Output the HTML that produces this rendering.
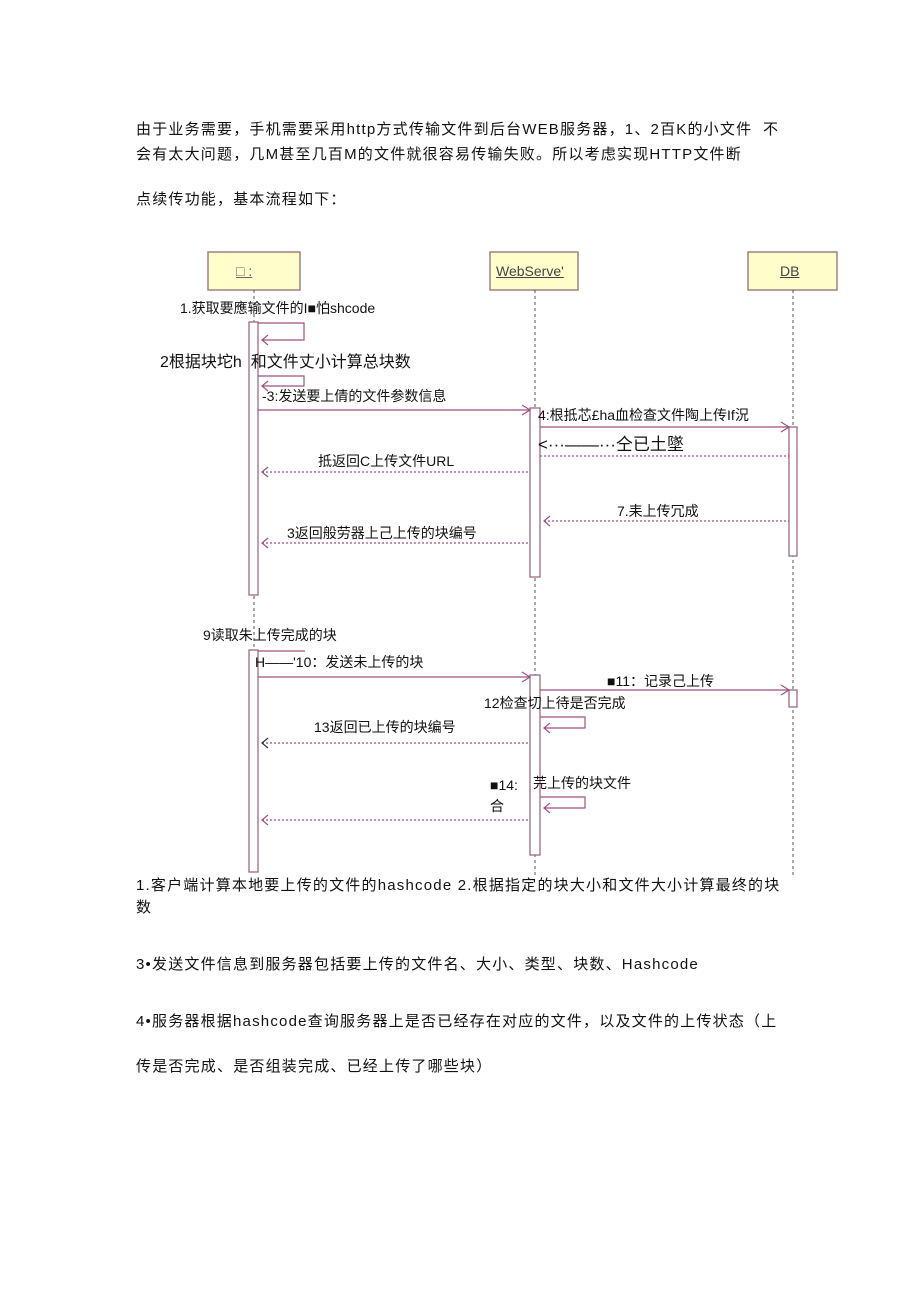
<!DOCTYPE html>
<html><head><meta charset="utf-8"><style>
body{margin:0;background:#fff;width:920px;height:1302px;position:relative;overflow:hidden;font-family:"Liberation Sans","Noto Sans CJK SC",sans-serif;color:#111}
.t{position:absolute;white-space:nowrap;font-size:15px;line-height:18px;letter-spacing:1.2px}
.s{position:absolute;white-space:nowrap;font-size:14px;line-height:16px}
</style></head><body>
<div class="t" style="left:136px;top:121px">由于业务需要，手机需要采用http方式传输文件到后台WEB服务器，1、2百K的小文件&nbsp; 不</div>
<div class="t" style="left:136px;top:146px">会有太大问题，几M甚至几百M的文件就很容易传输失败。所以考虑实现HTTP文件断</div>
<div class="t" style="left:136px;top:191px">点续传功能，基本流程如下：</div>

<svg width="920" height="1302" style="position:absolute;left:0;top:0" xmlns="http://www.w3.org/2000/svg">
<g fill="#ffffcc" stroke="#a08080" stroke-width="1.5">
<rect x="208" y="252" width="92" height="38"/>
<rect x="490" y="252" width="88" height="38"/>
<rect x="748" y="252" width="89" height="38"/>
</g>
<g stroke="#555" stroke-dasharray="3,3" stroke-width="1">
<line x1="254" y1="290" x2="254" y2="650"/>
<line x1="535" y1="290" x2="535" y2="875"/>
<line x1="793" y1="290" x2="793" y2="875"/>
</g>
<g fill="#fff" stroke="#9a6a85" stroke-width="1.3">
<rect x="249" y="322" width="9" height="273"/>
<rect x="249" y="650" width="9" height="222"/>
<rect x="530" y="408" width="10" height="169"/>
<rect x="530" y="675" width="10" height="180"/>
<rect x="789" y="427" width="8" height="129"/>
<rect x="789" y="690" width="8" height="17"/>
</g>
<g stroke="#a05080" stroke-width="1.2" fill="none">
<polyline points="258,323 304,323 304,340 262,340"/><polyline points="268,335 262,340 268,345"/>
<polyline points="258,376 304,376 304,386 262,386"/><polyline points="268,381 262,386 268,391"/>
<line x1="258" y1="410" x2="530" y2="410"/><polyline points="522,405 530,410 522,415"/>
<line x1="540" y1="427" x2="789" y2="427"/><polyline points="781,422 789,427 781,432"/>
<line x1="540" y1="456" x2="789" y2="456" stroke-dasharray="2,2"/>
<line x1="262" y1="472" x2="530" y2="472" stroke-dasharray="2,2"/><polyline points="268,467 262,472 268,477"/>
<line x1="544" y1="521" x2="789" y2="521" stroke-dasharray="2,2"/><polyline points="550,516 544,521 550,526"/>
<line x1="262" y1="543" x2="530" y2="543" stroke-dasharray="2,2"/><polyline points="268,538 262,543 268,548"/>
<line x1="258" y1="651" x2="305" y2="651"/>
<line x1="258" y1="677" x2="530" y2="677"/><polyline points="522,672 530,677 522,682"/>
<line x1="540" y1="690" x2="789" y2="690"/><polyline points="781,685 789,690 781,695"/>
<polyline points="540,717 585,717 585,728 544,728"/><polyline points="550,723 544,728 550,733"/>
<line x1="262" y1="743" x2="530" y2="743" stroke-dasharray="2,2"/><polyline points="268,738 262,743 268,748" stroke="#333"/>
<polyline points="540,797 585,797 585,808 544,808"/><polyline points="550,803 544,808 550,813"/>
<line x1="262" y1="820" x2="530" y2="820" stroke-dasharray="2,2"/><polyline points="268,815 262,820 268,825"/>
</g>
</svg>
<div class="s" style="left:236px;top:263px;color:#666;text-decoration:underline">□ :</div>
<div class="s" style="left:496px;top:263px;color:#444;text-decoration:underline">WebServe'</div>
<div class="s" style="left:780px;top:263px;color:#444;text-decoration:underline">DB</div>
<div class="s" style="left:180px;top:300px">1.获取要應输文件的I■怕shcode</div>
<div class="t" style="left:160px;top:354px;font-size:16px;letter-spacing:0">2根据块坨h&nbsp; 和文件丈小计算总块数</div>
<div class="s" style="left:262px;top:388px">-3:发送要上倩的文件参数信息</div>
<div class="s" style="left:538px;top:407px">4:根抵芯£ha血检查文件陶上传If況</div>
<div class="t" style="left:538px;top:436px;font-size:17px;letter-spacing:0">&lt;···——···仝已土墜</div>
<div class="s" style="left:318px;top:453px">抵返回C上传文件URL</div>
<div class="s" style="left:617px;top:503px">7.耒上传冗成</div>
<div class="s" style="left:287px;top:525px">3返回般劳器上己上传的块编号</div>
<div class="s" style="left:203px;top:627px">9读取朱上传完成的块</div>
<div class="s" style="left:255px;top:654px">H——'10：发送未上传的块</div>
<div class="s" style="left:607px;top:673px">■11：记录己上传</div>
<div class="s" style="left:484px;top:695px">12检查切上待是否完成</div>
<div class="s" style="left:314px;top:719px">13返回已上传的块编号</div>
<div class="s" style="left:490px;top:777px">■14:</div>
<div class="s" style="left:533px;top:775px">芫上传的块文件</div>
<div class="s" style="left:490px;top:798px">合</div>

<div class="t" style="left:136px;top:877px">1.客户端计算本地要上传的文件的hashcode 2.根据指定的块大小和文件大小计算最终的块</div>
<div class="t" style="left:136px;top:899px">数</div>
<div class="t" style="left:136px;top:956px">3•发送文件信息到服务器包括要上传的文件名、大小、类型、块数、Hashcode</div>
<div class="t" style="left:136px;top:1013px">4•服务器根据hashcode查询服务器上是否已经存在对应的文件，以及文件的上传状态（上</div>
<div class="t" style="left:136px;top:1058px">传是否完成、是否组装完成、已经上传了哪些块）</div>
</body></html>
